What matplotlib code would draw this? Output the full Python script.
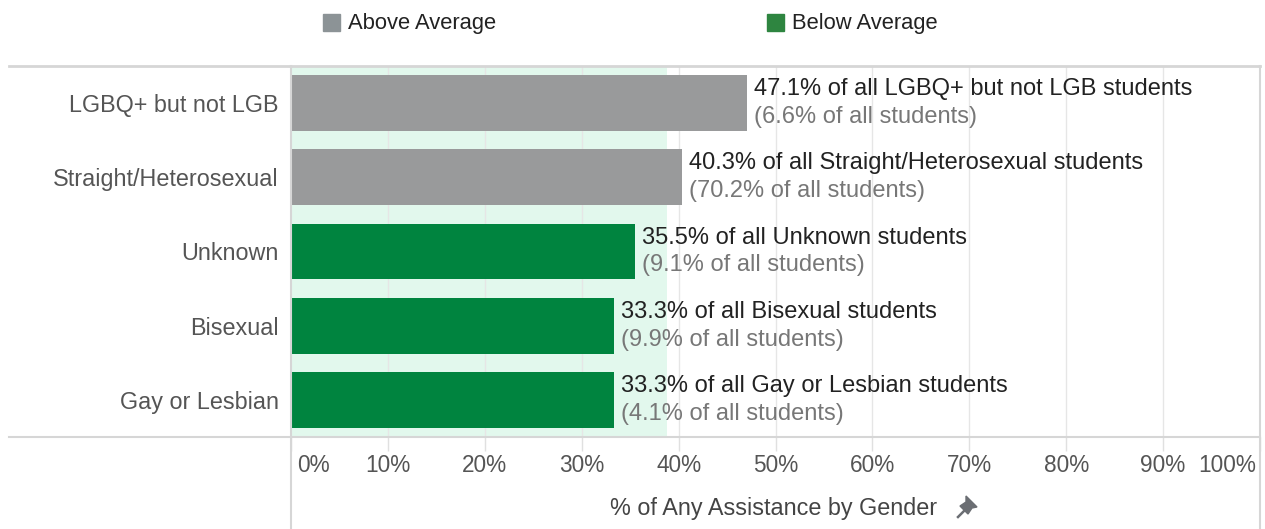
import matplotlib
matplotlib.use("Agg")
import matplotlib.pyplot as plt
from matplotlib.lines import Line2D
from matplotlib.patches import Rectangle, Polygon

plt.rcParams["font.family"] = ["Liberation Sans", "DejaVu Sans"]

# ── Données ──────────────────────────────────────────────────────────────────
categories = ["LGBQ+ but not LGB", "Straight/Heterosexual", "Unknown",
              "Bisexual", "Gay or Lesbian"]
pct_assist = [47.1, 40.3, 35.5, 33.3, 33.3]
pct_students = [6.6, 70.2, 9.1, 9.9, 4.1]
groupe = ["Above Average", "Above Average", "Below Average",
          "Below Average", "Below Average"]
moyenne = 38.8
ticks = [0, 10, 20, 30, 40, 50, 60, 70, 80, 90, 100]

couleurs = {"Above Average": "#999a9b", "Below Average": "#00843f"}
couleurs_leg = {"Above Average": "#8c9396", "Below Average": "#2e8540"}
GRIS_TXT = "#555555"
LIGNE = "#d6d6d6"

W, H = 1265, 529
fig = plt.figure(figsize=(W / 100, H / 100), dpi=100)
x0, x1, y_top, y_bot = 291, 1260, 66, 437
ax = fig.add_axes([x0 / W, 1 - y_bot / H, (x1 - x0) / W, (y_bot - y_top) / H])

ax.set_xlim(0, 100)
ax.set_ylim(len(categories) - 0.5, -0.5)

# zone moyenne
ax.axvspan(0, moyenne, color="#e2f8ed", zorder=0, lw=0)
for t in ticks[1:-1]:
    ax.axvline(t, color="#e6e6e6", lw=1, zorder=1)

ys = list(range(len(categories)))
ax.barh(ys, pct_assist, height=0.75,
        color=[couleurs[g] for g in groupe], zorder=2)

for y, v, s, cat in zip(ys, pct_assist, pct_students, categories):
    ax.annotate(f"{v}% of all {cat} students", (v, y), xytext=(7, 14),
                textcoords="offset pixels",
                ha="left", va="center", fontsize=17, color="#222222")
    ax.annotate(f"({s}% of all students)", (v, y), xytext=(7, -14),
                textcoords="offset pixels",
                ha="left", va="center", fontsize=17, color="#777777")

ax.set_yticks(ys)
ax.set_yticklabels(categories, fontsize=16.8, color=GRIS_TXT)
ax.tick_params(axis="y", length=0, pad=9)

ax.set_xticks(ticks)
ax.set_xticklabels([])
ax.tick_params(axis="x", length=10, color="#e0e0e0", width=1)
for t in ticks:
    if t == 0:
        ha, xp = "left", 0.6
    elif t == 100:
        ha, xp = "right", 99.6
    else:
        ha, xp = "center", t
    ax.text(xp, -0.078, f"{t}%", transform=ax.get_xaxis_transform(),
            ha=ha, va="center", fontsize=16.3, color=GRIS_TXT)

for sp in ax.spines.values():
    sp.set_visible(False)

# Cadre façon tableau
def fx(px):
    return px / W

def fy(py):
    return 1 - py / H

fig.add_artist(Line2D([fx(9), fx(x1)], [fy(y_top), fy(y_top)], color=LIGNE, lw=2))
fig.add_artist(Line2D([fx(9), fx(x1)], [fy(y_bot), fy(y_bot)], color=LIGNE, lw=1.5))
fig.add_artist(Line2D([fx(x0), fx(x0)], [fy(y_top), 0], color=LIGNE, lw=1.5))
fig.add_artist(Line2D([fx(x1), fx(x1)], [fy(y_top), 0], color=LIGNE, lw=1.5))

# Titre de l'axe + punaise
fig.text(fx(774), fy(508), "% of Any Assistance by Gender",
         ha="center", va="center", fontsize=16.8, color="#444444")
cx, cy = 967, 507
pin = Polygon([(fx(cx - 1), fy(cy - 11)), (fx(cx + 10), fy(cy)),
               (fx(cx + 5), fy(cy + 1)), (fx(cx + 1), fy(cy + 7)),
               (fx(cx - 7), fy(cy - 1)), (fx(cx - 1), fy(cy - 5))],
              closed=True, color="#6b6e73", transform=fig.transFigure)
fig.add_artist(pin)
fig.add_artist(Line2D([fx(cx - 2), fx(cx - 9)], [fy(cy + 3), fy(cy + 10)],
                      color="#6b6e73", lw=1.8))

# Légende
for (lbl, xs) in [("Above Average", 323), ("Below Average", 767)]:
    fig.add_artist(Rectangle((fx(xs), fy(31)), 17 / W, 17 / H,
                             color=couleurs_leg[lbl], transform=fig.transFigure))
    fig.text(fx(xs + 25), fy(23), lbl, ha="left", va="center",
             fontsize=15.8, color="#222222")

fig.savefig("out.png", dpi=100)
